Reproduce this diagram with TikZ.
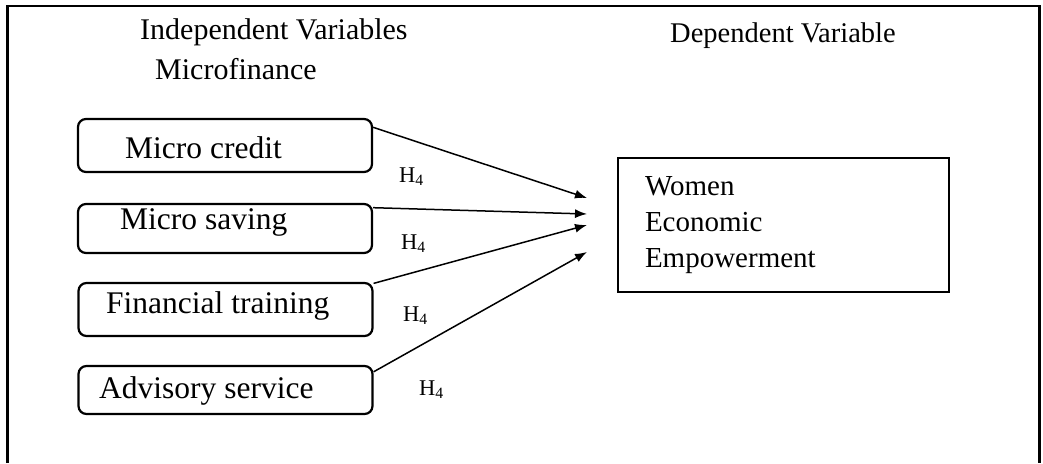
\documentclass[tikz,border=0pt]{standalone}
\usepackage{fontspec}
\setmainfont{Liberation Serif}
\usepackage{tikz}
\usetikzlibrary{positioning}
\usetikzlibrary{arrows.meta}

\begin{document}
\begin{tikzpicture}[x=1pt, y=-1pt, >={Latex[length=12pt, width=9pt]},
    varbox/.style={draw, line width=2.2pt, rounded corners=8pt, minimum width=294pt, inner sep=0pt},
    vartext/.style={anchor=base west, inner sep=0pt, font=\fontsize{31.5}{36}\selectfont},
    head/.style={anchor=base west, inner sep=0pt, font=\fontsize{30}{36}\selectfont},
    hyp/.style={anchor=base west, inner sep=0pt, font=\fontsize{22.5}{26}\selectfont}]
              \useasboundingbox (0,0) rectangle (1043,463);
              % Frame
              \draw[line width=2.8pt] (7.5,463) -- (7.5,6) -- (1039.5,6) -- (1039.5,463);

              % Headings
              \node[head] (indep) at (140,39) {Independent Variables};
              \node[head] (mf) at (155,79) {Microfinance};
              \node[head, font=\fontsize{28.5}{34}\selectfont] (dep) at (670,42) {Dependent Variable};

              % Boxes
              \node[varbox, minimum height=53pt] (credit) at (225,145.5) {};
              \node[varbox, minimum height=49pt] (saving) at (225,228.5) {};
              \node[varbox, minimum height=53pt] (training) at (225.5,309.5) {};
              \node[varbox, minimum height=48pt] (advisory) at (225.5,390) {};
              \node[vartext] (creditlbl) at (125,158) {Micro credit};
              \node[vartext] (savinglbl) at (120,229) {Micro saving};
              \node[vartext] (traininglbl) at (106,313) {Financial training};
              \node[vartext] (advisorylbl) at (99,398) {Advisory service};
              \node[draw, line width=2.4pt, minimum height=134pt, text width=277pt, inner xsep=27pt, inner ysep=0pt,
                    align=left, font=\fontsize{29}{36}\selectfont] (wee) at (783.5,225) {Women\\Economic\\Empowerment};

              % Hypotheses
              \node[hyp] (h1) at (399,182) {H\textsubscript{4}};
              \node[hyp] (h2) at (401,249) {H\textsubscript{4}};
              \node[hyp] (h3) at (403,321) {H\textsubscript{4}};
              \node[hyp] (h4) at (419,395) {H\textsubscript{4}};

              % Arrows
              \coordinate (e1) at (587,198);
              \coordinate (e2) at (587,214);
              \coordinate (e3) at (587,225);
              \coordinate (e4) at (587,252);
              \draw[->, line width=1.5pt] (credit.7) -- (e1);
              \draw[->, line width=1.5pt] (saving.8) -- (e2);
              \draw[->, line width=1.5pt] (training.10) -- (e3);
              \draw[->, line width=1.5pt] (advisory.7) -- (e4);
            \end{tikzpicture}
\end{document}
